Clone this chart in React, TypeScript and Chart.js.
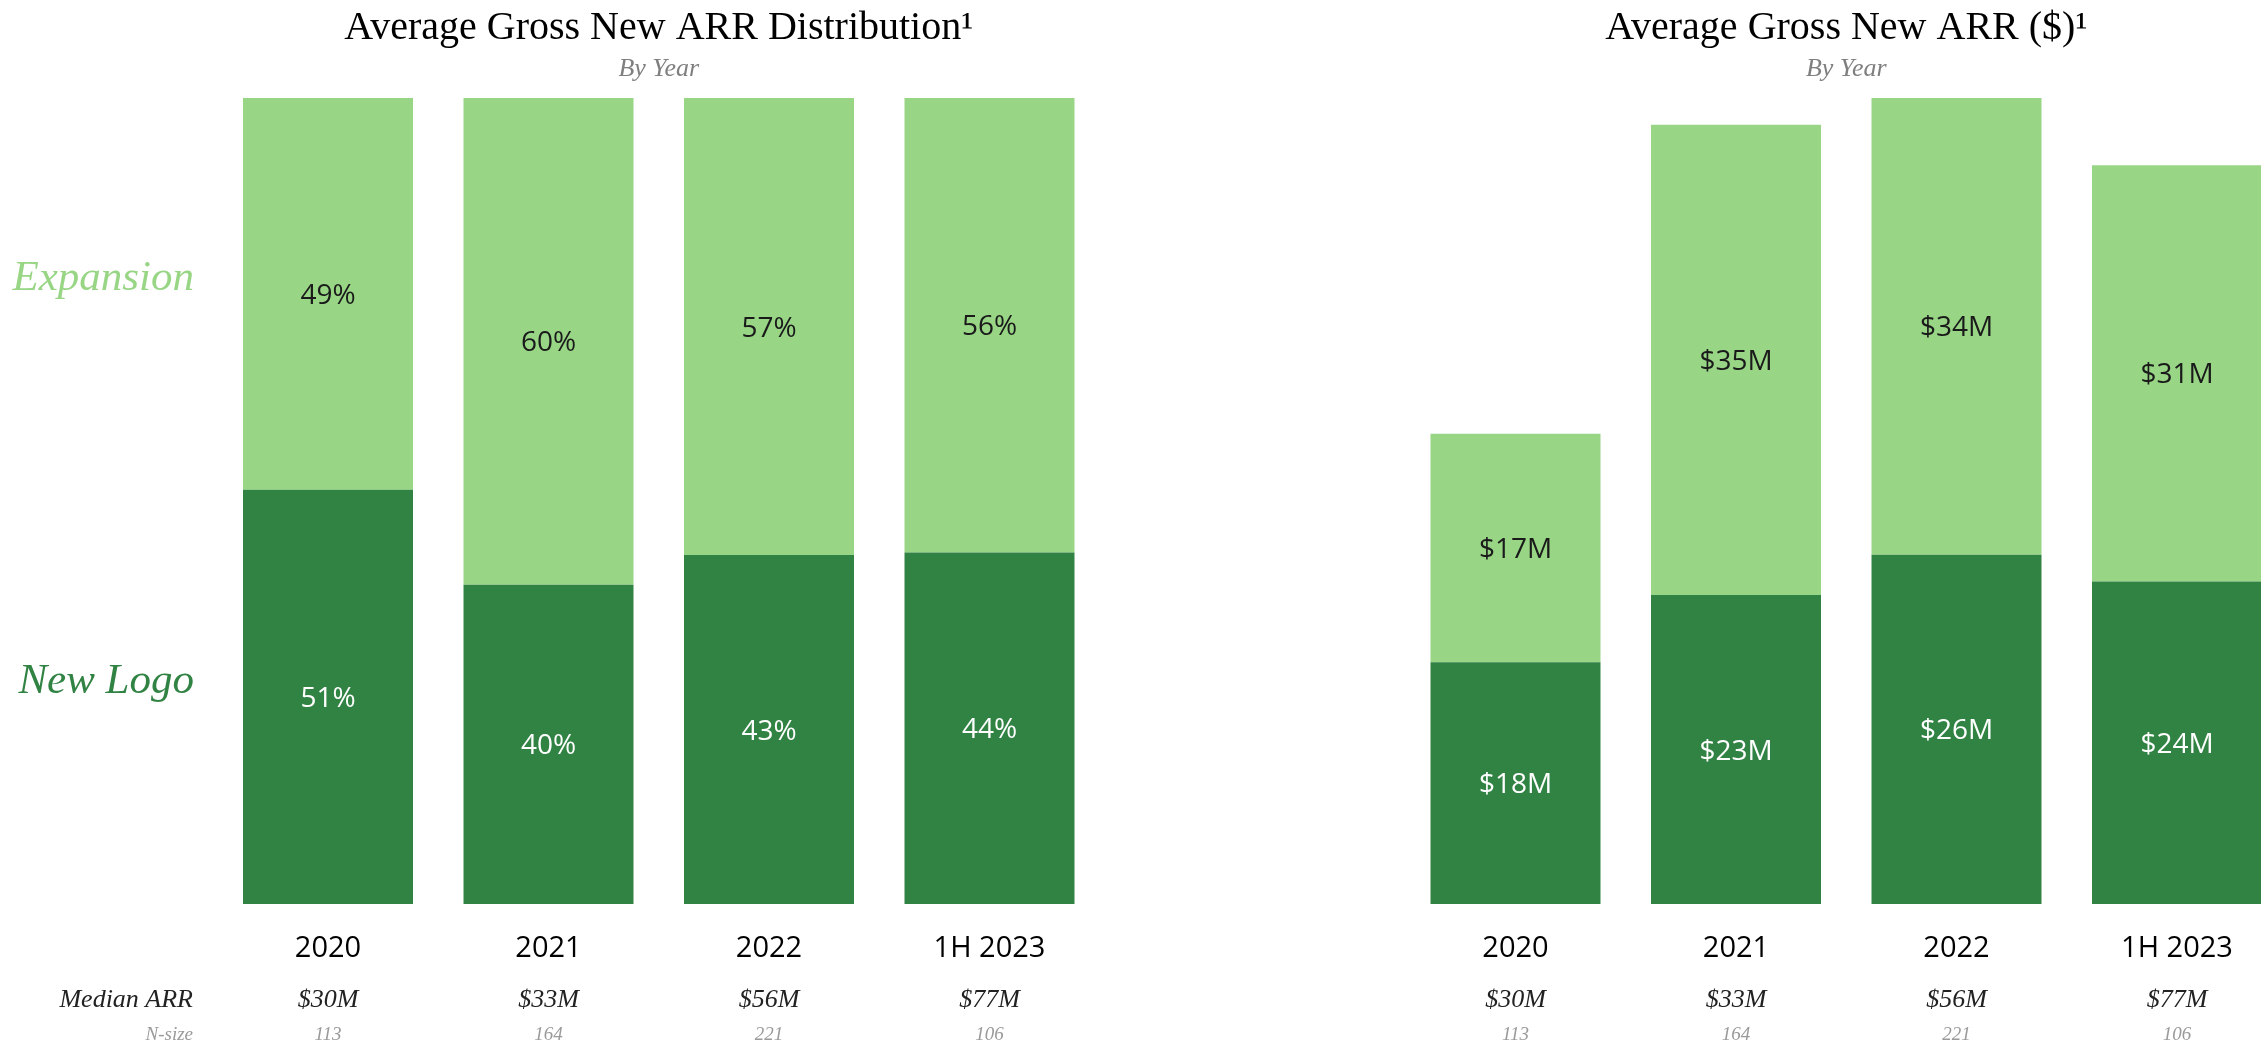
import React, { useEffect, useRef } from "react";
import { Chart, registerables } from "chart.js";

Chart.register(...registerables);

const categories = ["2020", "2021", "2022", "1H 2023"];
const medianArr = ["$30M", "$33M", "$56M", "$77M"];
const nSize = ["113", "164", "221", "106"];
const newLogoPct = [51.4, 39.6, 43.3, 43.6];
const expansionPct = [48.6, 60.4, 56.7, 56.4];
const newLogoUsd = [18, 23, 26, 24];
const expansionUsd = [17, 35, 34, 31];

const DARK = "#318344";
const LIGHT = "#98D686";
const SERIF = '"Liberation Serif", "DejaVu Serif", serif';
const SANS = '"Open Sans", "Noto Sans", sans-serif';

type OverlayOpts = {
  title: string;
  fmt: (v: number) => string;
  rowLabels: boolean;
};

function makeOverlay(o: OverlayOpts) {
  return {
    id: "overlay",
    afterDatasetsDraw(chart: any) {
      const ctx: CanvasRenderingContext2D = chart.ctx;
      const area = chart.chartArea;
      const xs = chart.scales.x;
      ctx.save();
      // data labels
      chart.data.datasets.forEach((ds: any, d: number) => {
        const meta = chart.getDatasetMeta(d);
        meta.data.forEach((el: any, i: number) => {
          const cy = (el.y + el.base) / 2;
          ctx.font = `28px ${SANS}`;
          ctx.textAlign = "center";
          ctx.textBaseline = "alphabetic";
          ctx.fillStyle = d === 0 ? "#ffffff" : "#1a1a1a";
          ctx.fillText(o.fmt(ds.data[i]), el.x, cy + 10);
        });
      });
      const cx = (area.left + area.right) / 2;
      // title
      ctx.textBaseline = "alphabetic";
      ctx.textAlign = "center";
      ctx.fillStyle = "#000000";
      ctx.font = `40px ${SERIF}`;
      ctx.fillText(o.title, cx, 39);
      ctx.fillStyle = "#7f7f7f";
      ctx.font = `italic 26px ${SERIF}`;
      ctx.fillText("By Year", cx, 76);
      // categories and rows
      categories.forEach((c, i) => {
        const x = xs.getPixelForValue(i);
        ctx.fillStyle = "#000000";
        ctx.font = `29px ${SANS}`;
        ctx.fillText(c, x, 957);
        ctx.fillStyle = "#222222";
        ctx.font = `italic 26px ${SERIF}`;
        ctx.fillText(medianArr[i], x, 1007);
        ctx.fillStyle = "#9a9a9a";
        ctx.font = `italic 19px ${SERIF}`;
        ctx.fillText(nSize[i], x, 1040);
      });
      if (o.rowLabels) {
        ctx.textAlign = "right";
        ctx.fillStyle = "#222222";
        ctx.font = `italic 26px ${SERIF}`;
        ctx.fillText("Median ARR", 193, 1007);
        ctx.fillStyle = "#9a9a9a";
        ctx.font = `italic 19px ${SERIF}`;
        ctx.fillText("N-size", 193, 1040);
        ctx.font = `italic 43px ${SERIF}`;
        ctx.fillStyle = LIGHT;
        ctx.fillText("Expansion", 194, 290);
        ctx.fillStyle = DARK;
        ctx.fillText("New Logo", 194, 693);
      }
      ctx.restore();
    },
  };
}

function BarChart(props: {
  left: number;
  width: number;
  pad: { left: number; right: number; top: number; bottom: number };
  a: number[];
  b: number[];
  max: number;
  overlay: OverlayOpts;
}) {
  const ref = useRef<HTMLCanvasElement | null>(null);
  useEffect(() => {
    if (!ref.current) return;
    const chart = new Chart(ref.current, {
      type: "bar",
      data: {
        labels: categories,
        datasets: [
          { label: "New Logo", data: props.a, backgroundColor: DARK, borderWidth: 0, categoryPercentage: 1, barPercentage: 0.771 },
          { label: "Expansion", data: props.b, backgroundColor: LIGHT, borderWidth: 0, categoryPercentage: 1, barPercentage: 0.771 },
        ],
      },
      options: {
        responsive: false,
        animation: false,
        devicePixelRatio: 1,
        layout: { padding: props.pad },
        plugins: { legend: { display: false }, tooltip: { enabled: false }, title: { display: false } },
        scales: {
          x: { display: false, stacked: true },
          y: { display: false, stacked: true, min: 0, max: props.max },
        },
      },
      plugins: [makeOverlay(props.overlay)],
    } as any);
    return () => chart.destroy();
  }, []);
  return (
    <canvas
      ref={ref}
      width={props.width}
      height={1045}
      style={{ position: "absolute", left: props.left, top: 0, width: props.width, height: 1045 }}
    />
  );
}

export default function App() {
  return (
    <div
      style={{
        position: "fixed",
        left: 0,
        top: 0,
        width: 2261,
        height: 1045,
        overflow: "hidden",
        background: "#ffffff",
      }}
    >
      <BarChart
        left={0}
        width={1130}
        pad={{ left: 217.75, right: 30.25, top: 98, bottom: 141 }}
        a={newLogoPct}
        b={expansionPct}
        max={100}
        overlay={{ title: "Average Gross New ARR Distribution\u00B9", fmt: (v) => `${Math.round(v)}%`, rowLabels: true }}
      />
      <BarChart
        left={1130}
        width={1200}
        pad={{ left: 275.25, right: 42.75, top: 98, bottom: 141 }}
        a={newLogoUsd}
        b={expansionUsd}
        max={60}
        overlay={{ title: "Average Gross New ARR ($)\u00B9", fmt: (v) => `$${Math.round(v)}M`, rowLabels: false }}
      />
    </div>
  );
}
